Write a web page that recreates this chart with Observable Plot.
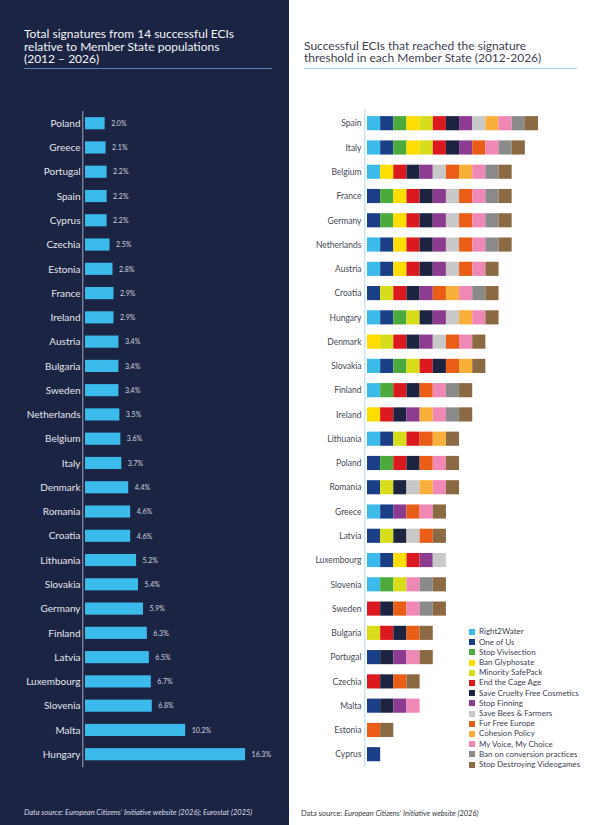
<!DOCTYPE html>
<html>
<head>
<meta charset="utf-8">
<script src="https://cdn.jsdelivr.net/npm/d3@7"></script>
<script src="https://cdn.jsdelivr.net/npm/@observablehq/plot@0.6"></script>
<style>
  html, body { margin: 0; padding: 0; }
  body { width: 604px; height: 825px; position: relative; overflow: hidden; font-family: Lato, "Noto Sans", sans-serif; background: #ffffff; }
  .panel { position: absolute; top: 0; height: 825px; }
  #left { left: 0; width: 289px; background: #1c2444; }
  #right { left: 289px; width: 315px; background: #ffffff; }
  .title { position: absolute; font-size: 12px; line-height: 12.7px; white-space: nowrap; }
  .rule { position: absolute; height: 0; border-top: 1px solid; }
  .chart { position: absolute; top: 100px; left: 0; }
  .source { position: absolute; font-size: 7.5px; line-height: 10px; white-space: nowrap; }
  #legend { position: absolute; left: 180px; top: 627.4px; }
  .eci-swatches { font-family: Lato, sans-serif !important; font-size: 8px !important; color: #3d4250; margin: 0 !important; }
  .eci-swatch { line-height: 9.2px; padding-bottom: 1px !important; }
  .eci-swatch > svg { margin-right: 4px !important; }
</style>
</head>
<body>
<div id="left" class="panel">
  <div class="title" style="left:24px; top:28px; color:#f2f4f8;">Total signatures from 14 successful ECIs<br>relative to Member State populations<br>(2012 – 2026)</div>
  <div class="rule" style="left:24px; top:68px; width:248px; border-color:#4d86b3;"></div>
  <div id="leftChart" class="chart"></div>
  <div class="source" style="left:24px; top:807.5px; color:#d9dce6; font-style:italic;">Data source: European Citizens’ Initiative website (2026); Eurostat (2025)</div>
</div>
<div id="right" class="panel">
  <div class="title" style="left:15px; top:39.5px; color:#3d4250;">Successful ECIs that reached the signature<br>threshold in each Member State (2012-2026)</div>
  <div class="rule" style="left:15px; top:68px; width:273px; border-color:#a6d3e4;"></div>
  <div id="rightChart" class="chart"></div>
  <div id="legend"></div>
  <div class="source" style="left:12px; top:809px; color:#333840;">Data source: <i>European Citizens’ Initiative website (2026)</i></div>
</div>
<script>
// Signatures as a share of each Member State's population (%)
const shareCountries = ["Poland", "Greece", "Portugal", "Spain", "Cyprus", "Czechia", "Estonia", "France", "Ireland",
  "Austria", "Bulgaria", "Sweden", "Netherlands", "Belgium", "Italy", "Denmark", "Romania", "Croatia", "Lithuania",
  "Slovakia", "Germany", "Finland", "Latvia", "Luxembourg", "Slovenia", "Malta", "Hungary"];
const shareValues = [2.0, 2.1, 2.2, 2.2, 2.2, 2.5, 2.8, 2.9, 2.9,
  3.4, 3.4, 3.4, 3.5, 3.6, 3.7, 4.4, 4.6, 4.6, 5.2,
  5.4, 5.9, 6.3, 6.5, 6.7, 6.8, 10.2, 16.3];

// The 14 successful European Citizens' Initiatives and their colours
const eciNames = ["Right2Water", "One of Us", "Stop Vivisection", "Ban Glyphosate", "Minority SafePack",
  "End the Cage Age", "Save Cruelty Free Cosmetics", "Stop Finning", "Save Bees & Farmers", "Fur Free Europe",
  "Cohesion Policy", "My Voice, My Choice", "Ban on conversion practices", "Stop Destroying Videogames"];
const eciColors = ["#3cbbea", "#1b3f87", "#4ca93b", "#fedd00", "#d7dd1a",
  "#db1a1f", "#1c2442", "#8c3b91", "#c8c8c8", "#ea5d16",
  "#f9b03a", "#f088b6", "#8a8a8a", "#8b6a43"];

// Initiatives (indices into eciNames) that reached the threshold in each Member State
const thresholdCountries = ["Spain", "Italy", "Belgium", "France", "Germany", "Netherlands", "Austria", "Croatia",
  "Hungary", "Denmark", "Slovakia", "Finland", "Ireland", "Lithuania", "Poland", "Romania", "Greece", "Latvia",
  "Luxembourg", "Slovenia", "Sweden", "Bulgaria", "Portugal", "Czechia", "Malta", "Estonia", "Cyprus"];
const thresholdEcis = [
  [0, 1, 2, 3, 4, 5, 6, 7, 8, 10, 11, 12, 13],
  [0, 1, 2, 3, 4, 5, 6, 7, 9, 11, 12, 13],
  [0, 3, 5, 6, 7, 8, 9, 10, 11, 12, 13],
  [1, 2, 3, 5, 6, 7, 8, 9, 11, 12, 13],
  [1, 2, 3, 5, 6, 7, 8, 9, 11, 12, 13],
  [0, 1, 3, 5, 6, 7, 8, 9, 11, 12, 13],
  [0, 1, 3, 5, 6, 7, 8, 9, 11, 13],
  [1, 4, 5, 6, 7, 9, 10, 11, 12, 13],
  [0, 1, 2, 4, 6, 7, 8, 10, 11, 13],
  [3, 4, 5, 6, 7, 8, 9, 11, 13],
  [0, 1, 2, 4, 5, 6, 9, 10, 13],
  [0, 2, 5, 6, 9, 11, 12, 13],
  [3, 5, 6, 7, 10, 11, 12, 13],
  [0, 1, 4, 5, 9, 10, 13],
  [1, 2, 5, 6, 9, 11, 13],
  [1, 4, 6, 8, 10, 11, 13],
  [0, 1, 7, 9, 11, 13],
  [1, 4, 6, 8, 9, 13],
  [0, 1, 3, 5, 7, 8],
  [0, 2, 4, 11, 12, 13],
  [5, 6, 9, 11, 12, 13],
  [4, 5, 6, 9, 13],
  [1, 6, 7, 11, 13],
  [5, 6, 9, 13],
  [1, 6, 7, 11],
  [9, 13],
  [1]
];

// Shared vertical layout so the two panels' rows line up
const chartHeight = 680, chartTop = 5, chartBottom = 7.6;

const shares = shareCountries.map((country, i) => ({country, value: shareValues[i]}));

const left = Plot.plot({
  width: 289,
  height: chartHeight,
  marginTop: chartTop,
  marginBottom: chartBottom,
  marginLeft: 85,
  marginRight: 7.6,
  style: {background: "transparent", color: "#e3e6ee", fontFamily: "Lato, sans-serif", fontSize: "10px", fontWeight: 400},
  x: {domain: [0, 20], axis: null},
  y: {domain: shareCountries, padding: 0.5, round: false, tickSize: 0, tickPadding: 5, label: null},
  marks: [
    Plot.ruleX([0], {stroke: "#a3a9bb", strokeWidth: 1, dx: -2.7, insetTop: 6, insetBottom: 5}),
    Plot.barX(shares, {x: "value", y: "country", fill: "#3bbbec"}),
    Plot.text(shares, {x: "value", y: "country", text: d => d.value.toFixed(1) + "%", dx: 6,
      textAnchor: "start", fontSize: 7, fill: "#cfd3de"})
  ]
});
document.getElementById("leftChart").append(left);

const cells = thresholdCountries.flatMap((country, i) =>
  thresholdEcis[i].map((k, pos) => ({country, eci: eciNames[k], pos})));

const colorScale = {type: "ordinal", domain: eciNames, range: eciColors};

const right = Plot.plot({
  width: 315,
  height: chartHeight,
  marginTop: chartTop,
  marginBottom: chartBottom,
  marginLeft: 78,
  marginRight: 13.4,
  style: {background: "transparent", color: "#454a55", fontFamily: "Lato, sans-serif", fontSize: "8.5px"},
  x: {domain: [0, 17], axis: null},
  y: {domain: thresholdCountries, padding: 0.5, round: false, tickSize: 0, tickPadding: 6, label: null},
  color: colorScale,
  marks: [
    Plot.ruleX([0], {stroke: "#b5dbea", strokeWidth: 1, dx: -2.7, insetTop: 4, insetBottom: 5}),
    Plot.barX(cells, {x1: "pos", x2: d => d.pos + 1, y: "country", fill: "eci", insetTop: -1, insetBottom: -1})
  ]
});
document.getElementById("rightChart").append(right);

const legend = Plot.legend({
  color: colorScale,
  legend: "swatches",
  columns: 1,
  swatchSize: 6,
  className: "eci"
});
document.getElementById("legend").append(legend);
</script>
</body>
</html>
